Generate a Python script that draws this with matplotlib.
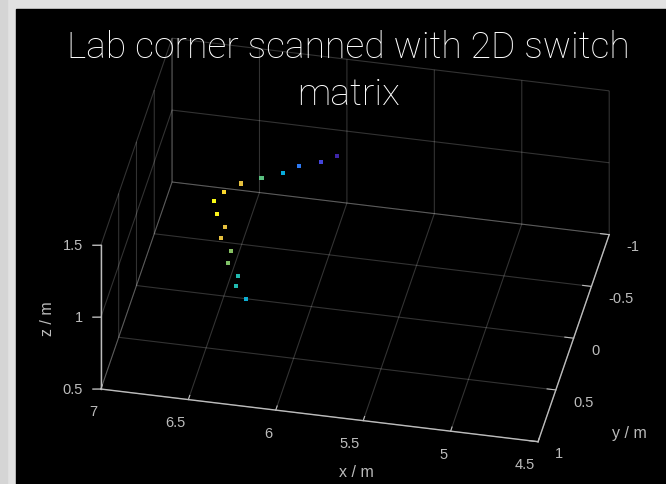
import matplotlib
matplotlib.use("Agg")
import matplotlib.pyplot as plt
from matplotlib.colors import LinearSegmentedColormap
from matplotlib.patches import Rectangle
from mpl_toolkits.mplot3d import proj3d

# detected reflection points (metres)
x_m = [5.894, 5.985, 6.110, 6.201, 6.326, 6.445,
       6.438, 6.495, 6.478, 6.433, 6.455, 6.399, 6.416, 6.359, 6.370, 6.313]
y_m = [-0.2, -0.2, -0.2, -0.2, -0.2, -0.2,
       0.3, 0.3, 0.3, 0.3, 0.3, 0.3, 0.3, 0.3, 0.3, 0.3]
z_m = [1.421, 1.365, 1.317, 1.254, 1.200, 1.147,
       1.447, 1.375, 1.292, 1.207, 1.126, 1.042, 0.961, 0.878, 0.805, 0.721]
# normalised colour value per point
level = [0.0, 0.08, 0.22, 0.38, 0.58, 0.82,
         0.92, 1.0, 0.98, 0.82, 0.82, 0.65, 0.64, 0.48, 0.48, 0.40]

x_ticks = [4.5, 5, 5.5, 6, 6.5, 7]
y_ticks = [-1, -0.5, 0, 0.5, 1]
z_ticks = [0.5, 1, 1.5]

# parula-like colormap
parula = LinearSegmentedColormap.from_list("parula", [
    (0.00, (0.242, 0.150, 0.660)),
    (0.12, (0.279, 0.334, 0.964)),
    (0.25, (0.150, 0.520, 0.950)),
    (0.38, (0.030, 0.670, 0.860)),
    (0.50, (0.150, 0.740, 0.650)),
    (0.62, (0.450, 0.760, 0.430)),
    (0.75, (0.780, 0.740, 0.260)),
    (0.87, (0.990, 0.760, 0.230)),
    (1.00, (0.977, 0.984, 0.081)),
])

W, H = 666, 485
fig = plt.figure(figsize=(W / 100, H / 100), dpi=100, facecolor="#e2e2e2")
fig.patches.append(Rectangle((0, 0), 7 / W, 1, transform=fig.transFigure,
                             color="#d5d5d5", zorder=-2))
fig.patches.append(Rectangle((16 / W, 0), 1 - 16 / W, 1 - 10 / H,
                             transform=fig.transFigure, color="black", zorder=-1))

S = 485
cx, cy = 348.5, H - 247.5
ax = fig.add_axes([(cx - S / 2) / W, (cy - S / 2) / H, S / W, S / H],
                  projection="3d")
ax.set_facecolor("none")
ax.set_proj_type("ortho")
ax.view_init(elev=36.3, azim=101.5)

ax.scatter(x_m, y_m, z_m, c=level, cmap=parula, vmin=0, vmax=1,
           marker="s", s=9, linewidths=0, depthshade=False)

ax.set_xlim(4.5, 7)
ax.set_ylim(-1, 1)
ax.set_zlim(0.5, 1.5)
ax.set_box_aspect((2.5, 2, 1), zoom=1.198)
ax.set_xticks(x_ticks)
ax.set_yticks(y_ticks)
ax.set_zticks(z_ticks)
ax.set_xticklabels([f"{v:g}" for v in x_ticks])
ax.set_yticklabels([])

tick_color = "#bcbcbc"
font = dict(family="Liberation Sans", color=tick_color)
for axis in (ax.xaxis, ax.yaxis, ax.zaxis):
    axis.set_pane_color((0, 0, 0, 0))
    axis.pane.set_edgecolor((0, 0, 0, 0))
    axis.line.set_color(tick_color)
    axis.line.set_linewidth(1.0)
    axis._axinfo["grid"].update(color=(1, 1, 1, 0.2), linewidth=0.8)
    axis._axinfo["tick"]["inward_factor"] = 0.0
    axis._axinfo["tick"]["outward_factor"] = 0.25
    axis.label.set_visible(False)
    axis.offsetText.set_visible(False)
ax.tick_params(colors=tick_color, labelsize=10.5)
ax.tick_params(axis="x", pad=0)
for lab in ax.get_xticklabels():
    lab.set_fontfamily("Liberation Sans")
    lab.set_horizontalalignment("right")

proj = ax.get_proj()


def label_at(x, y, z, s, **kw):
    # flat text anchored at the projected position of a 3D point
    px, py, _ = proj3d.proj_transform(x, y, z, proj)
    return ax.text2D(px, py, s, transform=ax.transData, **font, **kw)


# y tick labels, left-aligned just right of the y axis
for yt in y_ticks:
    label_at(4.383, yt + 0.089, 0.5, f"{yt:g}", ha="left", va="center",
             fontsize=10.5)

# z axis sits on the front-left edge (x=7, y=1): draw it there by hand
ax.zaxis.set_ticks_position("none")
ax.zaxis.line.set_visible(False)
ax.plot([7, 7], [1, 1], [z_ticks[0], z_ticks[-1]], color=tick_color, lw=1.0,
        clip_on=False)
for zt in z_ticks:
    ax.plot([7, 7.0436], [1, 1.0092], [zt, zt], color=tick_color, lw=1.0,
            clip_on=False)
    label_at(7.0982, 1.0207, zt, f"{zt:g}", ha="right", va="center",
             fontsize=10.5)

label_at(5.441, 1.477, 0.5, "x / m", ha="center", va="center", fontsize=11.5)
label_at(4.015, 0.808, 0.5, "y / m", ha="center", va="center", fontsize=11.5)
label_at(7.293, 1.0618, 1.0, "z / m", ha="center", va="center", rotation=90,
         fontsize=11.5)

fig.text(348 / W, 1 - 71.5 / H, "Lab corner scanned with 2D switch\nmatrix",
         ha="center", va="center", color="white", fontsize=26.8,
         family="Roboto", fontweight="light", linespacing=1.37)

fig.savefig("out.png", dpi=100, facecolor=fig.get_facecolor())
